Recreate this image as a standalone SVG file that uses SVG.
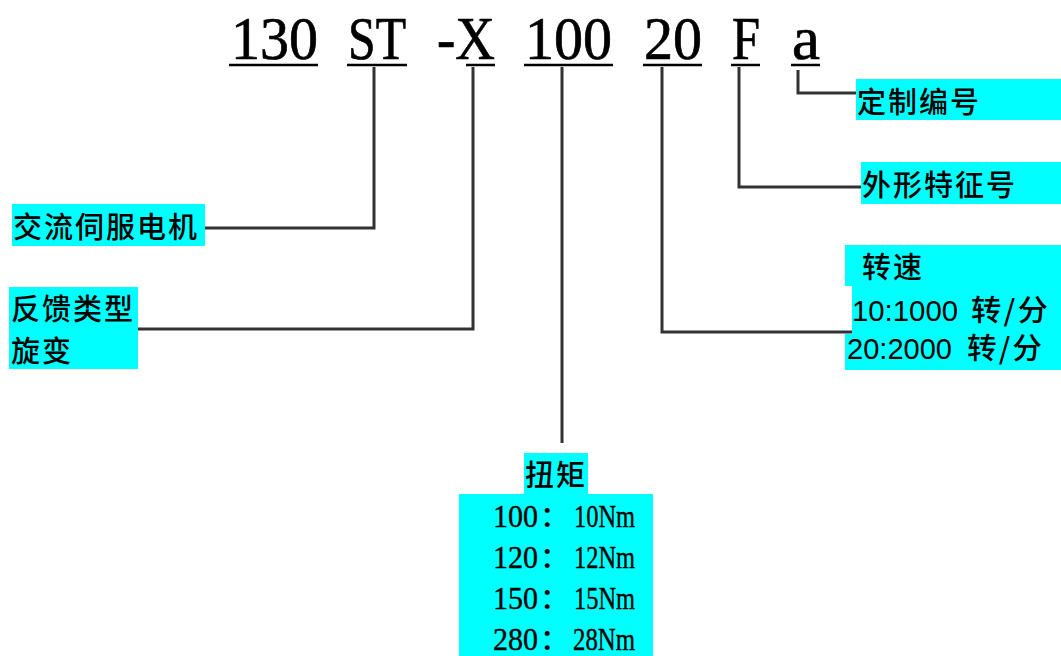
<svg xmlns="http://www.w3.org/2000/svg" width="1061" height="656" viewBox="0 0 1061 656">
<style>
.code{font-family:"Liberation Serif",serif;font-size:61px;fill:#000;stroke:#000;stroke-width:0.7}
.ul{stroke:#000;stroke-width:2.5}
.box{fill:#00ffff}
.cjk{font-family:"Noto Sans CJK SC","Noto Sans",sans-serif;font-size:29px;font-weight:500;fill:#000;letter-spacing:2px}
.num{font-family:"Liberation Sans",sans-serif;font-size:30px;fill:#000}
.ser{font-family:"Liberation Serif",serif;font-size:32px;fill:#000;stroke:#000;stroke-width:0.4}
.conn{stroke:#333;stroke-width:3;fill:none}
</style>
<rect width="1061" height="656" fill="#fff"/>
<g id="code">
<text class="code" x="231" y="59" textLength="87" lengthAdjust="spacingAndGlyphs">130</text>
<line class="ul" x1="229" y1="65" x2="318" y2="65"/>
<text class="code" x="348" y="59" textLength="58" lengthAdjust="spacingAndGlyphs">ST</text>
<line class="ul" x1="347" y1="65" x2="407" y2="65"/>
<text class="code" x="437" y="59" textLength="58" lengthAdjust="spacingAndGlyphs">-X</text>
<line class="ul" x1="466" y1="65" x2="495" y2="65"/>
<text class="code" x="525" y="59" textLength="87" lengthAdjust="spacingAndGlyphs">100</text>
<line class="ul" x1="524" y1="65" x2="613" y2="65"/>
<text class="code" x="644" y="59" textLength="58" lengthAdjust="spacingAndGlyphs">20</text>
<line class="ul" x1="643" y1="65" x2="702" y2="65"/>
<text class="code" x="732" y="59" textLength="28" lengthAdjust="spacingAndGlyphs">F</text>
<line class="ul" x1="731" y1="65" x2="760" y2="65"/>
<text class="code" x="792" y="59" textLength="28" lengthAdjust="spacingAndGlyphs">a</text>
<line class="ul" x1="791" y1="65" x2="820" y2="65"/>
</g>
<g id="connectors">
<polyline class="conn" points="374,67 374,228 205,228"/>
<polyline class="conn" points="473,67 473,329 138,329"/>
<line class="conn" x1="562" y1="67" x2="562" y2="443"/>
<polyline class="conn" points="662,67 662,332 852,332"/>
<polyline class="conn" points="739,67 739,187 862,187"/>
<polyline class="conn" points="798,70 798,93 857,93"/>
</g>
<g id="custom">
<rect class="box" x="856" y="79" width="205" height="41"/>
<text class="cjk" x="857" y="113">定制编号</text>
</g>
<g id="shape">
<rect class="box" x="861" y="162" width="200" height="42"/>
<text class="cjk" x="862" y="196">外形特征号</text>
</g>
<g id="motor">
<rect class="box" x="12" y="204" width="193" height="42"/>
<text class="cjk" x="13" y="238">交流伺服电机</text>
</g>
<g id="feedback">
<rect class="box" x="9" y="287" width="129" height="82"/>
<text class="cjk" x="11" y="320">反馈类型</text>
<text class="cjk" x="11" y="362">旋变</text>
</g>
<g id="speed">
<rect class="box" x="845" y="245" width="216" height="41"/>
<rect class="box" x="852" y="286" width="209" height="48"/>
<rect class="box" x="845" y="334" width="216" height="36"/>
<text class="cjk" x="862" y="278">转速</text>
<text class="num" x="852" y="321" textLength="106" lengthAdjust="spacingAndGlyphs">10:1000</text>
<text class="cjk" x="971" y="321" textLength="79" lengthAdjust="spacingAndGlyphs">转/分</text>
<text class="num" x="847" y="359" textLength="105" lengthAdjust="spacingAndGlyphs">20:2000</text>
<text class="cjk" x="967" y="359" textLength="77" lengthAdjust="spacingAndGlyphs">转/分</text>
</g>
<g id="torque">
<rect class="box" x="524" y="453" width="64" height="41"/>
<rect class="box" x="459" y="494" width="194" height="162"/>
<text class="cjk" x="525" y="486">扭矩</text>
<text class="ser" x="493" y="527" textLength="45" lengthAdjust="spacingAndGlyphs">100</text>
<text class="cjk" x="540" y="527">：</text>
<text class="ser" x="574" y="527" textLength="61" lengthAdjust="spacingAndGlyphs">10Nm</text>
<text class="ser" x="493" y="568" textLength="45" lengthAdjust="spacingAndGlyphs">120</text>
<text class="cjk" x="540" y="568">：</text>
<text class="ser" x="574" y="568" textLength="61" lengthAdjust="spacingAndGlyphs">12Nm</text>
<text class="ser" x="493" y="609" textLength="45" lengthAdjust="spacingAndGlyphs">150</text>
<text class="cjk" x="540" y="609">：</text>
<text class="ser" x="574" y="609" textLength="61" lengthAdjust="spacingAndGlyphs">15Nm</text>
<text class="ser" x="493" y="650" textLength="45" lengthAdjust="spacingAndGlyphs">280</text>
<text class="cjk" x="540" y="650">：</text>
<text class="ser" x="573" y="650" textLength="62" lengthAdjust="spacingAndGlyphs">28Nm</text>
</g>
</svg>
